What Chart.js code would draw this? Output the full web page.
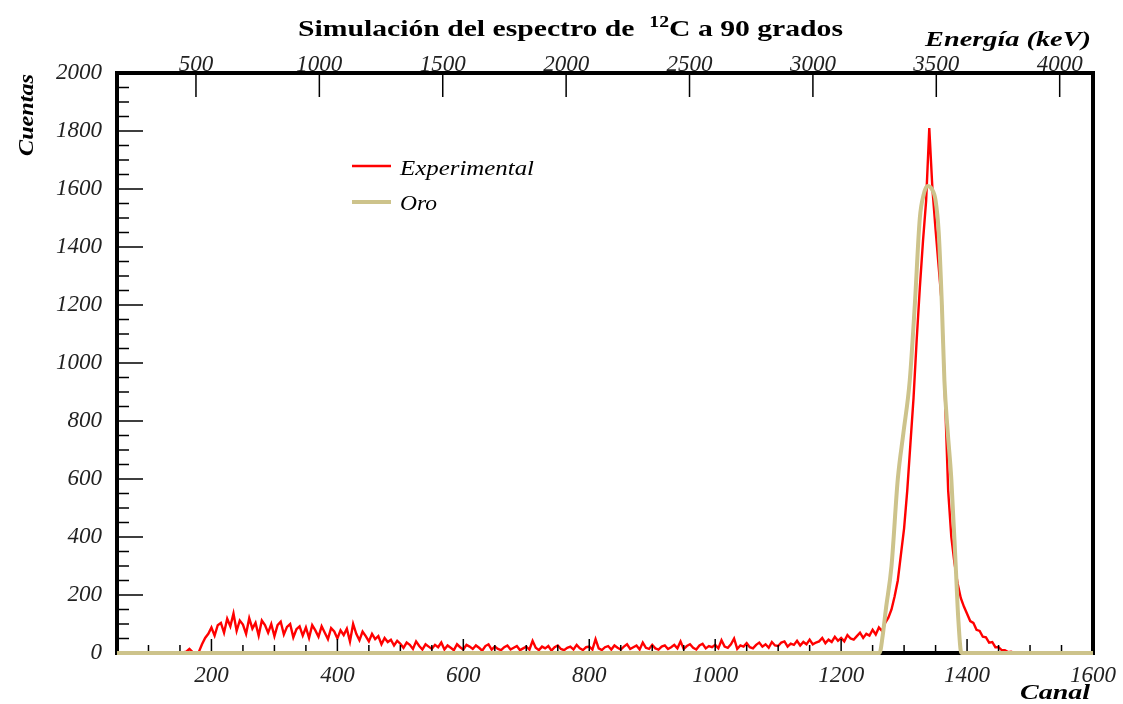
<!DOCTYPE html>
<html>
<head>
<meta charset="utf-8">
<script src="https://cdn.jsdelivr.net/npm/chart.js@4.4.1/dist/chart.umd.min.js"></script>
<style>
  html, body { margin: 0; padding: 0; background: #fff; }
</style>
</head>
<body>
<canvas id="espectro" width="1123" height="704"></canvas>
<script>
// valores (canal inicial y paso del histograma experimental)
const canalInicio = 50;
const canalPaso = 5;
const cuentasExp = [
    0, 0, 0, 0, 0, 0, 0, 0, 0, 0,
    0, 0, 0, 0, 0, 0, 0, 0, 0, 0,
    0, 2, 5, 14, 3, 0, 4, 30, 52, 66,
    88, 60, 96, 104, 70, 118, 92, 136, 76, 112,
    98, 66, 120, 84, 104, 60, 112, 96, 70, 100,
    58, 96, 108, 64, 90, 100, 54, 82, 92, 60,
    88, 52, 96, 78, 56, 92, 70, 48, 86, 74,
    50, 78, 62, 84, 40, 100, 66, 44, 74, 58,
    40, 66, 48, 58, 30, 52, 38, 46, 26, 42,
    32, 18, 36, 28, 14, 40, 24, 12, 30, 22,
    14, 28, 20, 36, 12, 26, 18, 10, 30, 20,
    12, 28, 22, 14, 26, 18, 8, 24, 30, 12,
    22, 14, 10, 20, 26, 12, 18, 24, 10, 16,
    22, 12, 42, 18, 10, 22, 16, 24, 8, 20,
    26, 14, 10, 18, 22, 12, 28, 16, 10, 20,
    22, 12, 48, 16, 10, 20, 24, 12, 26, 18,
    12, 22, 30, 14, 20, 26, 12, 36, 18, 14,
    28, 16, 12, 22, 26, 14, 20, 28, 16, 40,
    14, 24, 30, 18, 12, 26, 32, 16, 24, 20,
    28, 16, 44, 22, 18, 30, 50, 14, 26, 22,
    34, 20, 16, 28, 36, 22, 30, 18, 38, 26,
    24, 36, 40, 22, 32, 28, 42, 26, 38, 30,
    46, 30, 36, 40, 52, 34, 46, 38, 56, 42,
    52, 40, 62, 50, 46, 58, 70, 52, 66, 60,
    80, 64, 88, 76, 104, 122, 150, 196, 250, 340,
    430, 560, 720, 880, 1080, 1260, 1420, 1560, 1810, 1600,
    1460, 1330, 1200, 880, 560, 400, 310, 240, 190, 160,
    135, 110, 104, 80, 76, 56, 54, 36, 38, 20,
    20, 10, 10, 3, 4, 0, 2, 0, 0, 0,
    0, 0, 0, 0, 0, 0, 0, 0, 0, 0,
    0, 0, 0, 0, 0, 0, 0, 0, 0, 0,
    0
];

const canalOro = [50, 1261, 1266, 1271, 1280, 1290, 1299, 1309, 1317, 1325, 1331, 1337, 1344, 1350, 1355, 1360, 1364, 1369, 1375, 1382, 1386, 1391, 1600];
const cuentasOro = [0, 0, 60, 150, 300, 600, 760, 940, 1200, 1500, 1580, 1610, 1600, 1560, 1450, 1200, 940, 770, 600, 300, 120, 0, 0];

const ticksCanal = [200, 400, 600, 800, 1000, 1200, 1400, 1600];
const ticksEnergia = [500, 1000, 1500, 2000, 2500, 3000, 3500, 4000];
const ticksCuentas = [0, 200, 400, 600, 800, 1000, 1200, 1400, 1600, 1800, 2000];

const fuente = "'Liberation Serif', 'DejaVu Serif', serif";
const colorExp = '#ff0000';
const colorOro = '#cdc38b';

// marco y marcas hacia dentro, como en ROOT
const marco = {
    id: 'marco',
    afterDatasetDraw(chart, args) {
        if (chart.data.datasets[args.index].label !== 'Experimental') return;
        const ctx = chart.ctx;
        const { left, right, top, bottom } = chart.chartArea;
        const sx = chart.scales.x, sy = chart.scales.y, sx2 = chart.scales.x2;
        ctx.save();
        ctx.strokeStyle = '#000';
        ctx.lineWidth = 1.5;
        ctx.beginPath();
        for (let v = 0; v <= 2000; v += 50) {
            const py = sy.getPixelForValue(v);
            ctx.moveTo(left, py);
            ctx.lineTo(left + (v % 200 === 0 ? 26 : 12), py);
        }
        for (let v = 50; v <= 1600; v += 50) {
            const px = sx.getPixelForValue(v);
            ctx.moveTo(px, bottom);
            ctx.lineTo(px, bottom - (v % 200 === 0 ? 14 : 8));
        }
        ticksEnergia.forEach((v) => {
            const px = sx2.getPixelForValue(v);
            ctx.moveTo(px, top);
            ctx.lineTo(px, top + 24);
        });
        ctx.stroke();

        ctx.lineWidth = 4;
        ctx.lineJoin = 'miter';
        ctx.beginPath();
        ctx.moveTo(left, bottom);
        ctx.lineTo(left, top);
        ctx.lineTo(right, top);
        ctx.lineTo(right, bottom);
        ctx.closePath();
        ctx.stroke();
        ctx.restore();
    }
};

function textoAncho(ctx, txt, x, y, ancho) {
    const w = ctx.measureText(txt).width;
    ctx.save();
    ctx.translate(x, y);
    ctx.scale(ancho / w, 1);
    ctx.textAlign = 'left';
    ctx.fillText(txt, 0, 0);
    ctx.restore();
}

const textos = {
    id: 'textos',
    afterDraw(chart) {
        const ctx = chart.ctx;
        ctx.save();
        ctx.fillStyle = '#000';
        ctx.textBaseline = 'alphabetic';

        // titulo con superindice
        const a = 'Simulación del espectro de  ', b = '12', c = 'C a 90 grados';
        ctx.font = 'bold 24px ' + fuente;
        const wa = ctx.measureText(a).width, wc = ctx.measureText(c).width;
        ctx.font = 'bold 16px ' + fuente;
        const wb = ctx.measureText(b).width;
        const s = 545 / (wa + wb + wc);
        ctx.translate(298, 36);
        ctx.scale(s, 1);
        ctx.font = 'bold 24px ' + fuente;
        ctx.fillText(a, 0, 0);
        ctx.fillText(c, wa + wb, 0);
        ctx.font = 'bold 16px ' + fuente;
        ctx.fillText(b, wa, -9);
        ctx.setTransform(1, 0, 0, 1, 0, 0);

        ctx.font = 'bold italic 22px ' + fuente;
        textoAncho(ctx, 'Energía (keV)', 925, 46, 166);
        textoAncho(ctx, 'Canal', 1020, 699, 70);

        ctx.save();
        ctx.translate(33, 156);
        ctx.rotate(-Math.PI / 2);
        textoAncho(ctx, 'Cuentas', 0, 0, 82);
        ctx.restore();

        // leyenda
        ctx.lineWidth = 2.5;
        ctx.strokeStyle = colorExp;
        ctx.beginPath();
        ctx.moveTo(352, 166);
        ctx.lineTo(391, 166);
        ctx.stroke();
        ctx.lineWidth = 4;
        ctx.strokeStyle = colorOro;
        ctx.beginPath();
        ctx.moveTo(352, 202);
        ctx.lineTo(391, 202);
        ctx.stroke();
        ctx.font = 'italic 20px ' + fuente;
        textoAncho(ctx, 'Experimental', 400, 175, 134);
        textoAncho(ctx, 'Oro', 400, 210, 37);
        ctx.restore();
    }
};

const datosExp = cuentasExp.map((c, i) => ({ x: canalInicio + i * canalPaso, y: c }));
const datosOro = canalOro.map((ch, i) => ({ x: ch, y: cuentasOro[i] }));

const fuenteTicks = { family: fuente, style: 'italic', size: 23 };
const etiqueta = (v) => String(v);

const config = {
    type: 'line',
    data: {
        datasets: [
            {
                label: 'Experimental',
                data: datosExp,
                borderColor: colorExp,
                borderWidth: 2.4,
                pointRadius: 0,
                tension: 0,
                order: 1,
                clip: 6,
                xAxisID: 'x',
                yAxisID: 'y',
            },
            {
                label: 'Oro',
                data: datosOro,
                borderColor: colorOro,
                borderWidth: 4,
                pointRadius: 0,
                cubicInterpolationMode: 'monotone',
                order: 0,
                clip: 6,
                xAxisID: 'x',
                yAxisID: 'y',
            },
        ],
    },
    options: {
        responsive: false,
        animation: false,
        devicePixelRatio: 1,
        layout: { padding: { left: 0, right: 30, top: 0, bottom: 0 } },
        plugins: {
            legend: { display: false },
            tooltip: { enabled: false },
            title: { display: false },
        },
        scales: {
            x: {
                type: 'linear',
                position: 'bottom',
                min: 50,
                max: 1600,
                grid: { display: false },
                border: { display: false },
                afterBuildTicks: (axis) => { axis.ticks = ticksCanal.map((v) => ({ value: v })); },
                afterFit: (axis) => { axis.height = 51; },
                ticks: { font: fuenteTicks, color: '#222', padding: 1, maxRotation: 0, autoSkip: false, callback: etiqueta },
            },
            x2: {
                type: 'linear',
                axis: 'x',
                position: 'top',
                min: 180,
                max: 4135,
                grid: { display: false },
                border: { display: false },
                afterBuildTicks: (axis) => { axis.ticks = ticksEnergia.map((v) => ({ value: v })); },
                afterFit: (axis) => { axis.height = 73; },
                ticks: { font: fuenteTicks, color: '#222', padding: -14, maxRotation: 0, autoSkip: false, callback: etiqueta },
            },
            y: {
                type: 'linear',
                position: 'left',
                min: 0,
                max: 2000,
                grid: { display: false },
                border: { display: false },
                afterBuildTicks: (axis) => { axis.ticks = ticksCuentas.map((v) => ({ value: v })); },
                afterFit: (axis) => { axis.width = 117; },
                ticks: { font: fuenteTicks, color: '#222', padding: 7, autoSkip: false, callback: etiqueta },
            },
        },
    },
    plugins: [marco, textos],
};

new Chart(document.getElementById('espectro').getContext('2d'), config);
</script>
</body>
</html>
